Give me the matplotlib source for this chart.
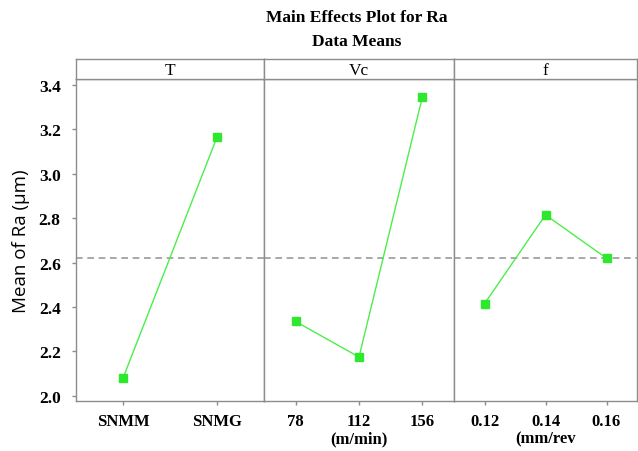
"""
Main effects plot for Ra (data means)
"""
import matplotlib
matplotlib.use("Agg")
import matplotlib.pyplot as plt

# factor names and levels
factors = ["T", "Vc", "f"]
t_levels = ["SNMM", "SNMG"]
vc_levels = ["78", "112", "156"]
f_levels = ["0.12", "0.14", "0.16"]

# mean Ra per level
t_means = [2.08, 3.165]
vc_means = [2.335, 2.175, 3.345]
f_means = [2.415, 2.815, 2.62]

grand_mean = 2.62
units = ["", "(m/min)", "(mm/rev"]
y_ticks = [2.0, 2.2, 2.4, 2.6, 2.8, 3.0, 3.2, 3.4]

levels = [t_levels, vc_levels, f_levels]
means = [t_means, vc_means, f_means]

SERIF = "Liberation Serif"
GRAY = "#8c8c8c"
GREEN = "#2ee82e"

fig = plt.figure(figsize=(6.38, 4.52), dpi=100)

bottom, top = 1 - 402 / 452, 1 - 80 / 452
strip_h = 20 / 452
edges_px = [76, 264, 454, 637]

for i in range(3):
    x0 = edges_px[i] / 638
    w = (edges_px[i + 1] - edges_px[i]) / 638
    ax = fig.add_axes([x0, bottom, w, top - bottom])

    n = len(levels[i])
    xs = list(range(n))
    ax.axhline(grand_mean, color="#9a9a9a", lw=1.2, ls=(0, (4, 2.8)), zorder=1)
    ax.plot(xs, means[i], color="#4cee4c", lw=1.0, zorder=2)
    ax.plot(xs, means[i], ls="none", marker="s", ms=6.3, color=GREEN,
            markeredgecolor=GREEN, zorder=3)
    ax.set_xlim(-0.5, n - 0.5)
    ax.set_ylim(1.977, 3.427)
    ax.set_xticks(xs)
    ax.set_xticklabels(levels[i], fontfamily=SERIF, fontweight="bold",
                       fontsize=12)
    ax.set_yticks(y_ticks)
    if i == 0:
        ax.set_yticklabels([f"{v:.1f}" for v in y_ticks], fontfamily=SERIF,
                           fontweight="bold", fontsize=12.5)
        ax.set_ylabel("Mean of Ra (µm)", fontfamily="Open Sans", fontsize=13.5,
                      labelpad=6)
    else:
        ax.tick_params(axis="y", left=False, labelleft=False)
    if units[i]:
        ax.set_xlabel(units[i], fontfamily=SERIF, fontweight="bold",
                      fontsize=12, labelpad=1)
    ax.tick_params(axis="x", color=GRAY, length=3, width=1, pad=6)
    ax.tick_params(axis="y", color=GRAY, length=3, width=1, pad=8)
    for s in ax.spines.values():
        s.set_color(GRAY)
        s.set_linewidth(1.0)

    # header strip with factor name
    sx = fig.add_axes([x0, top, w, strip_h])
    sx.set_xticks([])
    sx.set_yticks([])
    for s in sx.spines.values():
        s.set_color(GRAY)
        s.set_linewidth(1.0)
    sx.text(0.5, 0.45, factors[i], ha="center", va="center",
            fontfamily=SERIF, fontsize=12.5, transform=sx.transAxes)

fig.text(357 / 638, 1 - 18 / 452, "Main Effects Plot for Ra", ha="center",
         va="center", fontfamily=SERIF, fontweight="bold", fontsize=12.5)
fig.text(357 / 638, 1 - 42 / 452, "Data Means", ha="center", va="center",
         fontfamily=SERIF, fontweight="bold", fontsize=12.5)

fig.savefig("out.png", dpi=100)
